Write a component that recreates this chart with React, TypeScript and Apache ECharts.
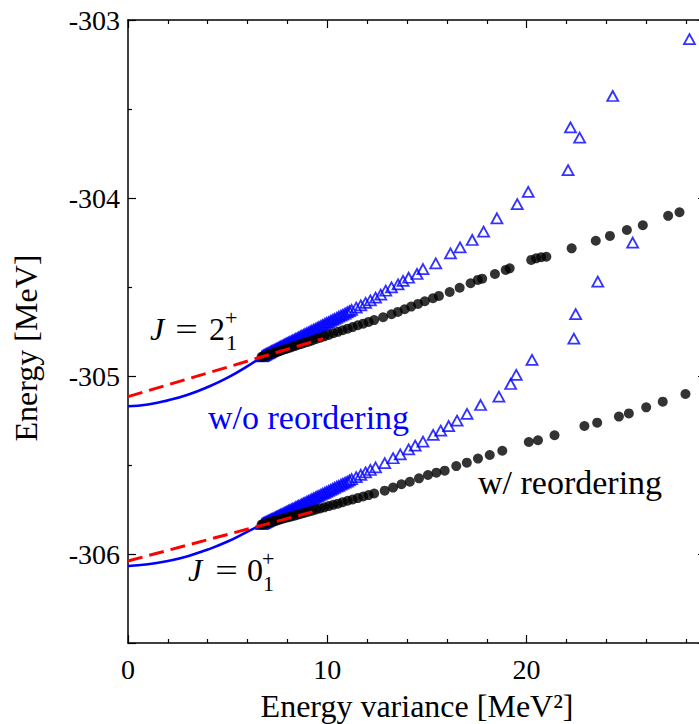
import React, { useEffect, useRef } from "react";
import * as echarts from "echarts";

// ---------- data ----------
// extrapolation curves (x = energy variance, y = energy)
const fitNoReorder2: [number, number][] = [
  [0, -305.17], [1, -305.16], [2, -305.137], [3, -305.105], [4, -305.062],
  [5, -305.009], [6, -304.944], [6.7, -304.893],
];
const fitNoReorder0: [number, number][] = [
  [0, -306.067], [1, -306.058], [2, -306.039], [3, -306.012], [4, -305.975],
  [5, -305.93], [6, -305.874], [6.7, -305.835],
];
const fitReorder2: [number, number][] = [[0, -305.116], [9.8, -304.79]];
const fitReorder0: [number, number][] = [[0, -306.039], [9.6, -305.753]];

// w/ reordering (black dots)
const reorder2: [number, number][] = [
  [6.7, -304.893], [6.78, -304.89], [6.86, -304.887], [6.95, -304.884], [7.05, -304.88],
  [7.15, -304.876], [7.26, -304.872], [7.38, -304.868], [7.5, -304.864], [7.63, -304.859],
  [7.76, -304.854], [7.9, -304.849], [8.05, -304.844], [8.2, -304.838], [8.36, -304.832],
  [8.52, -304.826], [8.69, -304.82], [8.87, -304.813], [9.05, -304.807], [9.24, -304.8],
  [9.44, -304.792], [9.64, -304.785], [9.85, -304.777], [10.07, -304.769], [10.3, -304.76],
  [10.53, -304.752], [10.77, -304.743], [11.02, -304.734], [11.27, -304.725], [11.53, -304.715],
  [11.8, -304.706], [12.07, -304.696], [12.35, -304.686], [12.8, -304.67], [13.22, -304.653],
  [13.54, -304.64], [13.88, -304.625], [14.21, -304.61], [14.55, -304.595], [14.89, -304.58],
  [15.3, -304.563], [15.6, -304.55], [16.14, -304.528], [16.64, -304.504], [17.19, -304.479],
  [17.55, -304.46], [17.77, -304.453], [18.41, -304.427], [18.95, -304.404], [19.15, -304.395],
  [20.23, -304.348], [20.48, -304.339], [20.73, -304.333], [20.99, -304.33], [22.26, -304.283],
  [23.47, -304.24], [24.18, -304.213], [25.03, -304.18], [25.83, -304.153], [27.1, -304.1],
  [27.67, -304.08],
];
const reorder0: [number, number][] = [
  [6.7, -305.835], [6.78, -305.832], [6.86, -305.83], [6.95, -305.827], [7.05, -305.824],
  [7.15, -305.821], [7.26, -305.818], [7.38, -305.814], [7.5, -305.81], [7.63, -305.806],
  [7.76, -305.802], [7.9, -305.798], [8.05, -305.793], [8.2, -305.789], [8.36, -305.784],
  [8.52, -305.779], [8.69, -305.774], [8.87, -305.768], [9.05, -305.762], [9.24, -305.757],
  [9.44, -305.75], [9.64, -305.744], [9.85, -305.738], [10.07, -305.731], [10.3, -305.724],
  [10.53, -305.717], [10.77, -305.709], [11.02, -305.701], [11.27, -305.694], [11.53, -305.686],
  [11.8, -305.677], [12.07, -305.669], [12.35, -305.66], [12.88, -305.644], [13.3, -305.627],
  [13.72, -305.608], [14.14, -305.594], [14.6, -305.575], [15.05, -305.556], [15.47, -305.543],
  [15.89, -305.532], [16.47, -305.506], [17.0, -305.487], [17.56, -305.464], [18.15, -305.444],
  [18.78, -305.42], [20.11, -305.371], [20.57, -305.361], [21.4, -305.333], [22.9, -305.281],
  [23.54, -305.262], [24.63, -305.228], [25.13, -305.21], [26.0, -305.176], [26.83, -305.144],
  [27.97, -305.101],
];

// w/o reordering (blue triangles)
const noReorder2: [number, number][] = [
  [6.72, -304.89], [6.8, -304.885], [6.88, -304.88], [6.97, -304.875], [7.06, -304.87],
  [7.16, -304.864], [7.26, -304.858], [7.37, -304.852], [7.48, -304.845], [7.6, -304.838],
  [7.72, -304.831], [7.85, -304.824], [7.98, -304.816], [8.12, -304.808], [8.26, -304.8],
  [8.41, -304.791], [8.56, -304.783], [8.72, -304.774], [8.88, -304.764], [9.05, -304.755],
  [9.22, -304.745], [9.4, -304.735], [9.58, -304.724], [9.77, -304.713], [9.96, -304.702],
  [10.16, -304.691], [10.36, -304.679], [10.57, -304.667], [10.78, -304.655], [11.0, -304.642],
  [11.22, -304.629], [11.45, -304.616], [11.68, -304.603], [11.92, -304.589], [12.16, -304.575],
  [12.42, -304.56], [12.68, -304.543], [12.93, -304.521], [13.22, -304.502], [13.55, -304.485],
  [13.8, -304.466], [14.08, -304.448], [14.5, -304.427], [14.8, -304.399], [15.44, -304.367],
  [16.18, -304.311], [16.66, -304.277], [17.27, -304.236], [17.84, -304.189], [18.51, -304.114],
  [19.53, -304.035], [20.08, -303.966], [22.08, -303.843], [22.2, -303.603], [22.66, -303.661],
  [24.32, -303.427], [28.17, -303.108],
];
const noReorder2Dense: [number, number][] = [
  [6.76, -304.888], [6.84, -304.883], [6.92, -304.878], [7.01, -304.873], [7.11, -304.867],
  [7.21, -304.861], [7.32, -304.855], [7.43, -304.848], [7.54, -304.842], [7.66, -304.835],
  [7.79, -304.827], [7.92, -304.82], [8.05, -304.812], [8.19, -304.804], [8.34, -304.796],
  [8.49, -304.787], [8.64, -304.778], [8.8, -304.769], [8.97, -304.76], [9.14, -304.75],
  [9.31, -304.74], [9.49, -304.73], [9.68, -304.719], [9.87, -304.708], [10.06, -304.697],
  [10.26, -304.685], [10.47, -304.673], [10.68, -304.661], [10.89, -304.649], [11.11, -304.636],
];
const noReorder0: [number, number][] = [
  [6.72, -305.832], [6.8, -305.827], [6.88, -305.823], [6.97, -305.818], [7.06, -305.813],
  [7.16, -305.807], [7.26, -305.802], [7.37, -305.796], [7.48, -305.789], [7.6, -305.783],
  [7.72, -305.776], [7.85, -305.769], [7.98, -305.761], [8.12, -305.754], [8.26, -305.746],
  [8.41, -305.737], [8.56, -305.729], [8.72, -305.72], [8.88, -305.711], [9.05, -305.702],
  [9.22, -305.692], [9.4, -305.682], [9.58, -305.672], [9.77, -305.661], [9.96, -305.651],
  [10.16, -305.64], [10.36, -305.628], [10.57, -305.617], [10.78, -305.605], [11.0, -305.593],
  [11.22, -305.58], [11.45, -305.568], [11.68, -305.555], [11.92, -305.541], [12.16, -305.528],
  [12.42, -305.513], [12.88, -305.49], [13.3, -305.462], [13.66, -305.44], [14.08, -305.412],
  [14.41, -305.391], [14.8, -305.369], [15.31, -305.331], [15.69, -305.307], [16.09, -305.281],
  [16.51, -305.251], [17.01, -305.213], [17.69, -305.163], [18.61, -305.116], [19.2, -305.045],
  [19.48, -304.994], [20.27, -304.91], [22.37, -304.79], [22.46, -304.652], [23.57, -304.47],
  [25.32, -304.251],
];
const noReorder0Dense: [number, number][] = [
  [6.76, -305.83], [6.84, -305.825], [6.92, -305.82], [7.01, -305.815], [7.11, -305.81],
  [7.21, -305.805], [7.32, -305.799], [7.43, -305.792], [7.54, -305.786], [7.66, -305.779],
  [7.79, -305.772], [7.92, -305.765], [8.05, -305.757], [8.19, -305.75], [8.34, -305.742],
  [8.49, -305.733], [8.64, -305.725], [8.8, -305.716], [8.97, -305.706], [9.14, -305.697],
  [9.31, -305.687], [9.49, -305.677], [9.68, -305.666], [9.87, -305.656], [10.06, -305.645],
  [10.26, -305.634], [10.47, -305.622], [10.68, -305.611], [10.89, -305.599], [11.11, -305.586],
];

const xRange = [0, 29];
const yRange = [-306.5, -303];
const xName = "Energy variance [MeV²]";
const yName = "Energy [MeV]";

// ---------- styling ----------
const FAMILY = "Liberation Serif, serif";
const BLUE = "#0000ff";
const RED = "#ff0000";

function txt(x: number, y: number, text: string, size: number, opts: any = {}) {
  return {
    type: "text",
    x,
    y,
    silent: true,
    rotation: opts.rotation || 0,
    scaleX: opts.scaleX || 1,
    style: {
      text,
      font: (opts.italic ? "italic " : "") + size + "px " + FAMILY,
      fill: opts.color || "#000",
      align: opts.align || "left",
      verticalAlign: "middle",
    },
  };
}

export default function App() {
  const ref = useRef<HTMLDivElement>(null);
  useEffect(() => {
    if (!ref.current) return;
    const chart = echarts.init(ref.current, null, { renderer: "svg" });
    const axisLine = { show: true, onZero: false, lineStyle: { color: "#000", width: 1.5 } };
    const tickStyle = { color: "#000", width: 1.2 };
    const xBase = (pos: "bottom" | "top", labels: boolean) => ({
      type: "value",
      position: pos,
      min: xRange[0],
      max: xRange[1],
      interval: 10,
      axisLine,
      axisTick: { show: true, inside: true, length: 8, lineStyle: tickStyle },
      minorTick: { show: true, splitNumber: 5, length: 4, lineStyle: tickStyle },
      splitLine: { show: false },
      minorSplitLine: { show: false },
      axisLabel: {
        show: labels,
        margin: 12,
        color: "#000",
        fontSize: 28,
        fontFamily: FAMILY,
        formatter: (v: number) => (Math.abs(v % 10) < 1e-9 ? String(v) : ""),
      },
    });
    const yBase = (pos: "left" | "right", labels: boolean) => ({
      type: "value",
      position: pos,
      min: yRange[0],
      max: yRange[1],
      splitNumber: 4,
      axisLine,
      axisTick: { show: true, inside: true, length: 8, lineStyle: tickStyle },
      minorTick: { show: true, splitNumber: 2, length: 4, lineStyle: tickStyle },
      splitLine: { show: false },
      minorSplitLine: { show: false },
      axisLabel: {
        show: labels,
        margin: 8,
        color: "#000",
        fontSize: 28,
        fontFamily: FAMILY,
        formatter: (v: number) => (Math.abs(v - Math.round(v)) < 1e-9 ? String(v) : ""),
      },
    });
    const tri = (data: [number, number][]) => ({
      type: "scatter",
      data,
      symbol: "triangle",
      symbolSize: [11, 10],
      silent: true,
      itemStyle: { color: "rgba(0,0,0,0)", borderColor: BLUE, borderWidth: 1.8 },
    });
    const dots = (data: [number, number][]) => ({
      type: "scatter",
      data,
      symbol: "circle",
      symbolSize: 10,
      silent: true,
      itemStyle: { color: "#000" },
    });
    const curve = (data: [number, number][], color: string, dashed: boolean) => ({
      type: "line",
      data,
      smooth: !dashed,
      showSymbol: false,
      silent: true,
      lineStyle: { color, width: dashed ? 3 : 2.6, type: dashed ? [15, 7] : "solid" },
    });
    chart.setOption({
      animation: false,
      backgroundColor: "#fff",
      grid: {
        left: 128,
        top: 20,
        width: 578,
        height: 623,
        containLabel: false,
        outerBoundsMode: "none",
      },
      xAxis: [xBase("bottom", true), xBase("top", false)],
      yAxis: [yBase("left", true), yBase("right", false)],
      series: [
        curve(fitNoReorder2, BLUE, false),
        curve(fitNoReorder0, BLUE, false),
        tri(noReorder2),
        tri(noReorder2Dense),
        tri(noReorder0),
        tri(noReorder0Dense),
        dots(reorder2),
        dots(reorder0),
        curve(fitReorder2, RED, true),
        curve(fitReorder0, RED, true),
      ],
      graphic: [
        txt(417, 706, xName, 32, { align: "center" }),
        txt(26, 348, yName, 32, { align: "center", rotation: Math.PI / 2 }),
        // J = 2_1^+
        txt(150, 329, "J", 32, { italic: true }),
        txt(186.5, 329, "=", 32, { align: "center", scaleX: 1.25 }),
        txt(209, 329, "2", 32),
        txt(225, 317, "+", 22),
        txt(226, 342, "1", 22),
        // J = 0_1^+
        txt(188, 570, "J", 32, { italic: true }),
        txt(226.5, 570, "=", 32, { align: "center", scaleX: 1.25 }),
        txt(247, 570, "0", 32),
        txt(262, 558, "+", 22),
        txt(263, 583, "1", 22),
        txt(208, 417.5, "w/o reordering", 34, { color: BLUE }),
        txt(478, 482, "w/ reordering", 34),
      ],
    });
    return () => chart.dispose();
  }, []);
  return (
    <div
      ref={ref}
      style={{ position: "fixed", left: 0, top: 0, width: 699, height: 724, background: "#fff" }}
    />
  );
}
